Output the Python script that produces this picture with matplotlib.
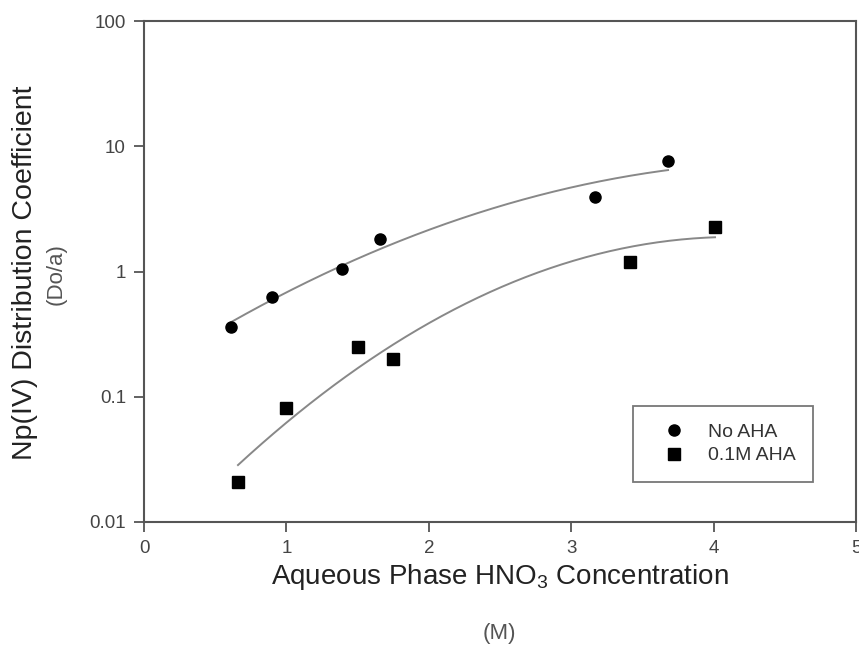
import matplotlib
matplotlib.use('Agg')
import matplotlib.pyplot as plt
import numpy as np

plt.rcParams['font.family'] = ['Liberation Sans', 'DejaVu Sans']
plt.rcParams['mathtext.default'] = 'regular'

# data
hno3_none = [0.61, 0.90, 1.39, 1.66, 3.17, 3.68]
d_none = [0.36, 0.63, 1.05, 1.83, 3.97, 7.6]

hno3_aha = [0.66, 1.00, 1.50, 1.75, 3.41, 4.01]
d_aha = [0.021, 0.081, 0.25, 0.20, 1.2, 2.25]

labels = ['No AHA', '0.1M AHA']

# quadratic fits of log10(D) vs HNO3, drawn over the data range
def fit_curve(x, y):
    c = np.polyfit(x, np.log10(y), 2)
    xs = np.linspace(min(x), max(x), 200)
    return xs, 10 ** np.polyval(c, xs)

fig = plt.figure(figsize=(8.59, 6.47), dpi=100)
ax = fig.add_axes([144 / 859, 1 - 522 / 647, 712 / 859, 501 / 647])

gray = '#555555'
xs, ys = fit_curve(hno3_none, d_none)
ax.plot(xs, ys, color='#888888', lw=1.4)
xs, ys = fit_curve(hno3_aha, d_aha)
ax.plot(xs, ys, color='#888888', lw=1.4)

ax.plot(hno3_none, d_none, 'o', color='black', ms=8, label=labels[0])
ax.plot(hno3_aha, d_aha, 's', color='black', ms=8, label=labels[1])

ax.set_yscale('log')
ax.set_xlim(0, 5)
ax.set_ylim(0.01, 100)
ax.set_xticks([0, 1, 2, 3, 4, 5])
ax.set_yticks([0.01, 0.1, 1, 10, 100])
ax.set_yticklabels(['0.01', '0.1', '1', '10', '100'])
ax.minorticks_off()
ax.tick_params(direction='out', length=7, width=1.3, color=gray,
               labelcolor='#444444', labelsize=13.5, pad=6)
for s in ax.spines.values():
    s.set_color(gray)
    s.set_linewidth(1.5)

leg = ax.legend(loc='lower right', bbox_to_anchor=(813 / 859, 1 - 482 / 647),
                bbox_transform=fig.transFigure, frameon=True, fancybox=False,
                fontsize=14, handletextpad=0.55, borderpad=0.9,
                labelspacing=0.3, handlelength=2.4, borderaxespad=0)
leg.get_frame().set_edgecolor(gray)
leg.get_frame().set_linewidth(1.3)
for t in leg.get_texts():
    t.set_color('#333333')

fig.text(500 / 859, 1 - 577 / 647, 'Aqueous Phase HNO$_3$ Concentration',
         ha='center', va='center', fontsize=20, color='#222222')
fig.text(499 / 859, 1 - 633 / 647, '(M)', ha='center', va='center',
         fontsize=16, color='#555555')
fig.text(25 / 859, 1 - 273 / 647, 'Np(IV) Distribution Coefficient',
         ha='center', va='center', rotation=90, fontsize=20.5, color='#222222')
fig.text(56 / 859, 1 - 274 / 647, '(Do/a)', ha='center', va='center',
         rotation=90, fontsize=16, color='#555555')

fig.savefig('out.png', dpi=100)
